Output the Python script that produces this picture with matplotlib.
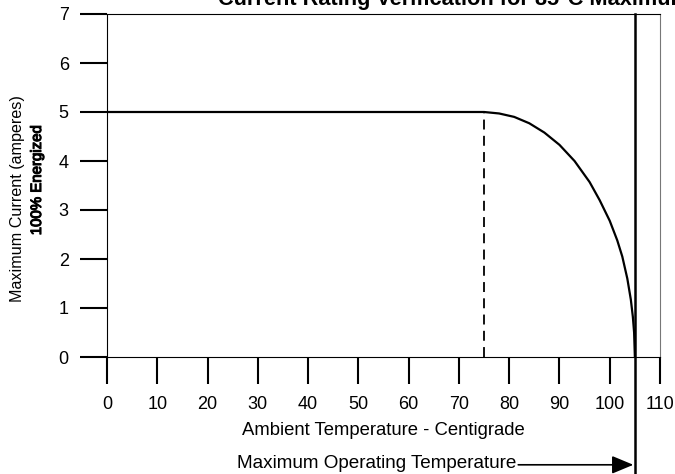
import matplotlib
matplotlib.use("Agg")
import matplotlib.pyplot as plt
import matplotlib.patheffects as pe

plt.rcParams["font.family"] = ["Liberation Sans", "DejaVu Sans"]

# derating curve
temp_c = [0, 75, 78, 81, 84, 87, 90, 93, 96, 98, 100, 101.5, 102.5, 103.5, 104.2, 104.6, 104.85, 105]
current_a = [5.0, 5.0, 4.97, 4.90, 4.77, 4.58, 4.33, 4.00, 3.57, 3.20, 2.78, 2.38, 2.05, 1.60, 1.17, 0.82, 0.50, 0.0]

derate_start = 75
max_operating = 105

x_ticks = list(range(0, 111, 10))
y_ticks = list(range(0, 8))

title = "Current Rating Verification for 85\u00b0C Maximum Ambient"
x_label = "Ambient Temperature - Centigrade"
y_label_1 = "Maximum Current (amperes)"
y_label_2 = "100% Energized"
note = "Maximum Operating Temperature"


def main():
    fig = plt.figure(figsize=(6.75, 4.74), dpi=100)
    fig.patch.set_facecolor("white")
    ax = fig.add_axes([107 / 675, 1 - 357 / 474, 553 / 675, 343 / 474])

    ax.plot(temp_c, current_a, color="black", lw=1.6, solid_capstyle="butt")
    ax.plot([derate_start, derate_start], [0, 5], color="black", lw=1.3,
            dashes=(5.5, 3.5))

    ax.set_xlim(0, 110)
    ax.set_ylim(0, 7)
    ax.set_xticks(x_ticks)
    ax.set_yticks(y_ticks)
    ax.tick_params(axis="both", direction="out", length=19.5, width=1.5,
                   labelsize=13, color="black")
    ax.tick_params(axis="x", pad=8.5)
    ax.tick_params(axis="y", pad=8)

    for side in ["left", "bottom", "top"]:
        ax.spines[side].set_linewidth(0.8)
        ax.spines[side].set_color("black")
    ax.spines["right"].set_linewidth(0.8)
    ax.spines["right"].set_color("#777777")

    ax.set_xlabel(x_label, fontsize=13.3, labelpad=6.5)

    # maximum operating temperature marker runs below the axis
    ax.plot([max_operating, max_operating], [7, -2.45], color="black", lw=1.8,
            clip_on=False)
    ax.text(25.9, -2.18, note, ha="left", va="center", fontsize=13.6)
    ax.annotate("", xy=(max_operating - 0.3, -2.2), xytext=(81.8, -2.2),
                xycoords="data", textcoords="data", annotation_clip=False,
                arrowprops=dict(arrowstyle="-|>,head_length=0.6,head_width=0.25",
                                color="black", lw=1.2, mutation_scale=22,
                                shrinkA=0, shrinkB=0))

    fig.text(18 / 675, 1 - 199 / 474, y_label_1, rotation=90, ha="center",
             va="center", fontsize=11.6)
    fig.text(37 / 675, 1 - 180 / 474, y_label_2, rotation=90, ha="center",
             va="center", fontsize=10.8,
             path_effects=[pe.withStroke(linewidth=0.8, foreground="black")])

    fig.text(218 / 675, 1 - 5 / 474, title, ha="left", va="baseline",
             fontsize=15.7, fontweight="bold")

    fig.savefig("out.png", dpi=100, facecolor="white")


if __name__ == "__main__":
    main()
